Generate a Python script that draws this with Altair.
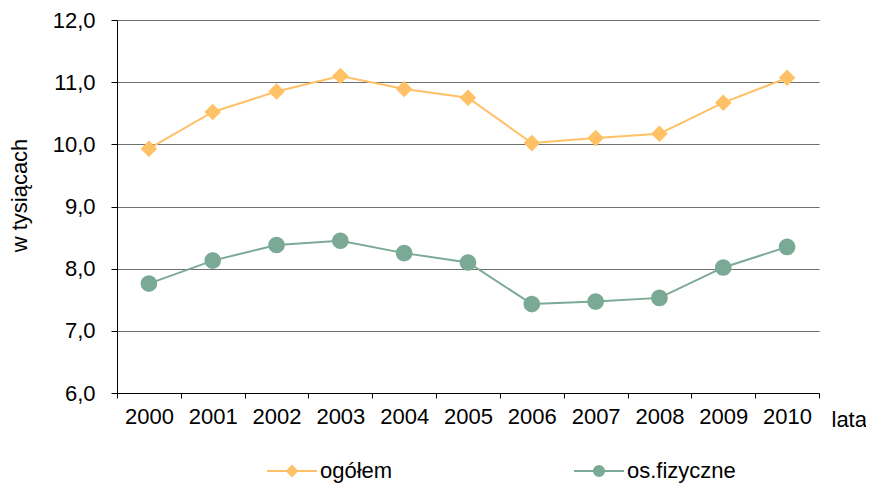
import altair as alt
import pandas as pd

years = [str(y) for y in range(2000, 2011)]
ogolem = [9.93, 10.52, 10.85, 11.10, 10.89, 10.75, 10.02, 10.10, 10.17, 10.67, 11.07]
fizyczne = [7.76, 8.13, 8.38, 8.45, 8.25, 8.10, 7.43, 7.47, 7.53, 8.02, 8.35]
series = ["ogółem", "os.fizyczne"]
colors = ["#FFC166", "#7AAA96"]
y_ticks = [6, 7, 8, 9, 10, 11, 12]

rows = []
for name, vals in zip(series, [ogolem, fizyczne]):
    for yr, v in zip(years, vals):
        rows.append({"rok": yr, "wartosc": v, "seria": name})
df = pd.DataFrame(rows)

FONT = "Liberation Sans"
FS = 22
W, H = 702, 373

x_enc = alt.X(
    "rok:O",
    bandPosition=0.5,
    scale=alt.Scale(type="band", paddingInner=0, paddingOuter=0),
    axis=alt.Axis(
        title="lata", titleAngle=0, titleAlign="left", titleBaseline="alphabetic",
        titleX=714, titleY=33, titleFontWeight="normal",
        labelAngle=0, tickBand="extent", tickSize=5, labelPadding=8,
        domainColor="#000000", tickColor="#000000", grid=False,
    ),
)
y_enc = alt.Y(
    "wartosc:Q",
    scale=alt.Scale(domain=[6, 12], nice=False, zero=False),
    axis=alt.Axis(
        title="w tysiącach", values=y_ticks, titleAngle=270, titleAlign="center",
        titleBaseline="alphabetic", titleX=-91, titleY=175, titleFontWeight="normal",
        labelExpr="replace(format(datum.value, '.1f'), '.', ',')",
        tickSize=6, labelPadding=16, domainColor="#000000", tickColor="#000000",
        grid=True, gridColor="#6E6E6E", gridWidth=1.2,
    ),
)

line_layers = [
    alt.Chart(df).transform_filter(alt.datum.seria == name).mark_line(
        strokeWidth=2, color=col
    ).encode(x=x_enc, y=y_enc)
    for name, col in zip(series, colors)
]

diamond_sym = "M-5,0H5M0,-1L1,0L0,1L-1,0Z"
circle_sym = "M-5,0H5M1,0A1,1,0,1,1,-1,0A1,1,0,1,1,1,0Z"

leg = alt.Legend(
    title=None, orient="none", legendX=164, legendY=440, direction="horizontal",
    symbolSize=100, symbolStrokeWidth=2, labelOffset=17, columnPadding=177, padding=0,
    labelFont=FONT, labelFontSize=FS, labelColor="#000000",
)

pts = alt.Chart(df).mark_point(filled=True, opacity=1, strokeWidth=0, size=275).encode(
    x=x_enc, y=y_enc,
    fill=alt.Fill("seria:N", scale=alt.Scale(domain=series, range=colors), legend=leg),
    stroke=alt.Stroke("seria:N", scale=alt.Scale(domain=series, range=colors), legend=leg),
    shape=alt.Shape("seria:N", scale=alt.Scale(domain=series, range=[diamond_sym, circle_sym]),
                    legend=leg),
)

chart = alt.layer(*line_layers, pts).properties(
    width=W, height=H,
    padding={"left": 109, "top": 12, "right": 47, "bottom": 92},
    autosize=alt.AutoSizeParams(type="none"),
).configure_axis(
    labelFont=FONT, titleFont=FONT, labelFontSize=FS, titleFontSize=FS,
    labelColor="#000000", titleColor="#000000",
).configure_view(stroke=None)

chart.save("out.html", embed_options={"renderer": "svg", "actions": False})
